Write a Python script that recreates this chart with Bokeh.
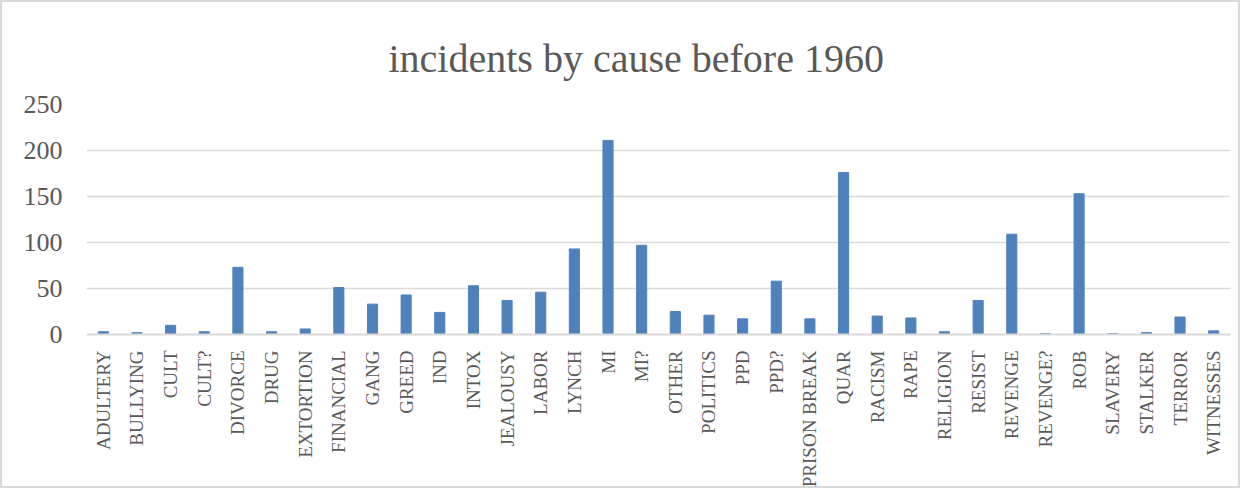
from bokeh.plotting import figure
from bokeh.models import Range1d, FactorRange, ColumnDataSource
from bokeh.embed import file_html
from bokeh.resources import INLINE
import math

causes = ["ADULTERY", "BULLYING", "CULT", "CULT?", "DIVORCE", "DRUG", "EXTORTION",
          "FINANCIAL", "GANG", "GREED", "IND", "INTOX", "JEALOUSY", "LABOR", "LYNCH",
          "MI", "MI?", "OTHER", "POLITICS", "PPD", "PPD?", "PRISON BREAK", "QUAR",
          "RACISM", "RAPE", "RELIGION", "RESIST", "REVENGE", "REVENGE?", "ROB",
          "SLAVERY", "STALKER", "TERROR", "WITNESSES"]
incidents = [3, 2, 10, 3, 73, 3, 6,
             51, 33, 43, 24, 53, 37, 46, 93,
             211, 97, 25, 21, 17, 58, 17, 176,
             20, 18, 3, 37, 109, 1, 153,
             1, 2, 19, 4]
y_ticks = [0, 50, 100, 150, 200, 250]

FONT = "Liberation Serif"
TXT = "#595959"
GRID = "#D9D9D9"

src = ColumnDataSource(dict(cause=causes, n=incidents))

p = figure(width=1240, height=488, output_backend="svg", toolbar_location=None,
           x_range=FactorRange(*causes, range_padding=0), y_range=Range1d(0, 250),
           min_border_left=84, min_border_right=12, min_border_top=102, min_border_bottom=156)

p.vbar(x="cause", top="n", width=0.3, source=src, color="#4F81BD")

p.title.text = "incidents by cause before 1960"
p.title.align = "left"
p.title.offset = 302
p.title.text_font = FONT
p.title.text_font_size = "40px"
p.title.text_font_style = "normal"
p.title.text_color = TXT
p.title.standoff = 48

p.outline_line_color = None
p.border_fill_color = "white"
p.background_fill_color = "white"

p.xgrid.grid_line_color = None
p.ygrid.grid_line_color = GRID
p.ygrid.grid_line_width = 1.5
p.yaxis.ticker = y_ticks
p.yaxis.axis_line_color = None
p.yaxis.major_tick_line_color = None
p.yaxis.minor_tick_line_color = None
p.yaxis.major_label_text_font = FONT
p.yaxis.major_label_text_font_size = "26px"
p.yaxis.major_label_text_color = TXT
p.yaxis.major_label_standoff = 18

p.xaxis.axis_line_color = GRID
p.xaxis.axis_line_width = 2
p.xaxis.major_tick_line_color = None
p.xaxis.minor_tick_line_color = None
p.xaxis.major_label_orientation = math.pi / 2
p.xaxis.major_label_text_font = FONT
p.xaxis.major_label_text_font_size = "19px"
p.xaxis.major_label_text_color = TXT
p.xaxis.major_label_standoff = 10

p.styles = {"border": "2px solid #D9D9D9"}

open("out.html", "w").write(file_html(p, INLINE))
